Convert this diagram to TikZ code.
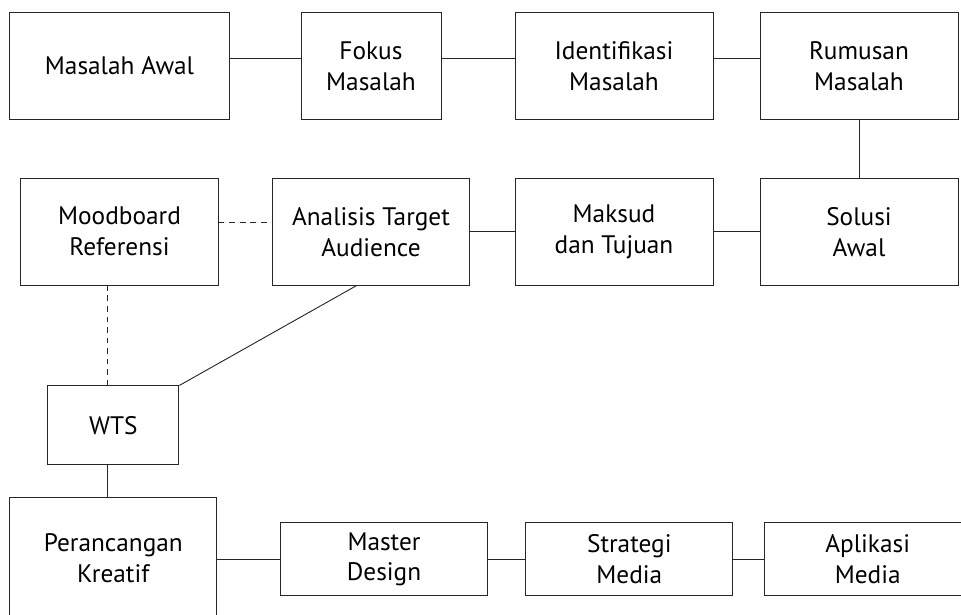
\documentclass[tikz,border=0pt]{standalone}
\usepackage{fontspec}
\setmainfont{PT Sans}
\usepackage{tikz}
\usetikzlibrary{positioning}

\begin{document}
\begin{tikzpicture}[x=0.025cm, y=-0.025cm,
  box/.style={draw=black!85, line width=0.65pt, align=center, inner sep=0pt,
    font=\fontsize{18}{22}\selectfont, minimum height=2.67cm},
  lbox/.style={box, minimum height=1.97cm},
  sbox/.style={box, minimum height=1.83cm},
  link/.style={draw=black!85, line width=0.65pt},
  dlink/.style={link, dashed, dash pattern=on 4pt off 3.5pt},
]
\clip (0,0) rectangle (961,614);
% baris pertama
\node[box, minimum width=5.5cm]  (mawal)   at (119.5,66) {Masalah Awal};
\node[box, minimum width=3.5cm]  (fokus)   at (371,66)   {Fokus\\Masalah};
\node[box, minimum width=4.95cm] (identif) at (614,66)   {Identifikasi\\Masalah};
\node[box, minimum width=4.95cm] (rumusan) at (859,66)   {Rumusan\\Masalah};
% baris kedua
\node[box, minimum width=4.94cm] (mood)     at (119.5,231.7) {Moodboard\\Referensi};
\node[box, minimum width=4.94cm] (analisis) at (371,231.7)   {Analisis Target\\Audience};
\node[box, minimum width=4.95cm] (maksud)   at (614,231.7)   {Maksud\\dan Tujuan};
\node[box, minimum width=4.95cm] (solusi)   at (859,231.7)   {Solusi\\Awal};
% wts dan perancangan
\node[lbox, minimum width=3.28cm] (wts) at (113.3,425.3) {WTS};
\node[box, minimum width=5.17cm, minimum height=3.05cm] (rancang) at (113.3,558) {Perancangan\\Kreatif};
\node[sbox, minimum width=5.16cm] (master)   at (384,559.3)   {Master\\Design};
\node[sbox, minimum width=5.17cm] (strategi) at (629.3,559.3) {Strategi\\Media};
\node[sbox, minimum width=5.17cm] (aplikasi) at (867.7,559.3) {Aplikasi\\Media};

\draw[link] ([yshift=0.2cm]mawal.east) -- ([yshift=0.2cm]fokus.west);
\draw[link] ([yshift=0.2cm]fokus.east) -- ([yshift=0.2cm]identif.west);
\draw[link] ([yshift=0.2cm]identif.east) -- ([yshift=0.2cm]rumusan.west);
\draw[link] (rumusan) -- (solusi);
\draw[link] (solusi) -- (maksud);
\draw[link] (maksud) -- (analisis);
\draw[dlink] ([yshift=0.22cm]mood.east) -- ([yshift=0.22cm]analisis.west);
\draw[dlink] ([xshift=-0.14cm]wts.north) -- ([xshift=-0.14cm]wts.north |- mood.south);
\draw[link] ([xshift=-0.36cm]analisis.south) -- (wts.north east);
\draw[link] ([xshift=-0.14cm]wts.south) -- ([xshift=-0.14cm]wts.south |- rancang.north);
\draw[link] (rancang.east |- master.west) -- (master.west);
\draw[link] (master) -- (strategi);
\draw[link] (strategi) -- (aplikasi);
\end{tikzpicture}
\end{document}
